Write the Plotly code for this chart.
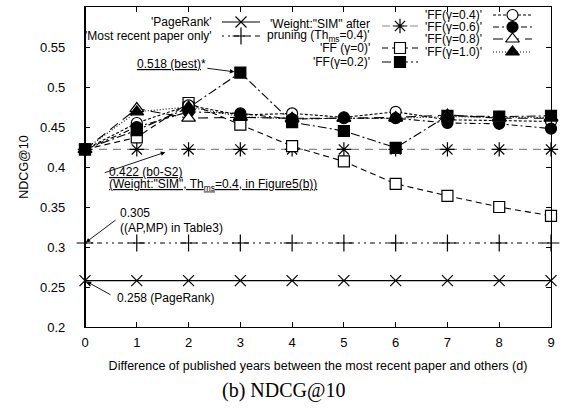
import plotly.graph_objects as go

# ---- data -------------------------------------------------------------
d = [0, 1, 2, 3, 4, 5, 6, 7, 8, 9]
pagerank = [0.258, 0.258, 0.258, 0.258, 0.258, 0.258, 0.258, 0.258, 0.258, 0.258]
most_recent = [0.305, 0.305, 0.305, 0.305, 0.305, 0.305, 0.305, 0.305, 0.305, 0.305]
sim_pruning = [0.422, 0.422, 0.422, 0.422, 0.422, 0.422, 0.422, 0.422, 0.422, 0.422]
ff_g00 = [0.422, 0.437, 0.480, 0.453, 0.426, 0.407, 0.379, 0.364, 0.350, 0.339]
ff_g02 = [0.422, 0.446, 0.474, 0.518, 0.456, 0.445, 0.424, 0.464, 0.463, 0.464]
ff_g04 = [0.422, 0.455, 0.477, 0.465, 0.467, 0.462, 0.469, 0.459, 0.458, 0.457]
ff_g06 = [0.422, 0.450, 0.469, 0.467, 0.460, 0.461, 0.461, 0.455, 0.454, 0.448]
ff_g08 = [0.422, 0.473, 0.461, 0.462, 0.461, 0.461, 0.462, 0.465, 0.461, 0.461]
ff_g10 = [0.422, 0.469, 0.475, 0.463, 0.460, 0.461, 0.461, 0.463, 0.462, 0.462]
y_ticks = [0.2, 0.25, 0.3, 0.35, 0.4, 0.45, 0.5, 0.55, 0.6]
y_tick_text = ["0.2", "0.25", "0.3", "0.35", "0.4", "0.45", "0.5", "0.55", "0.6"]

SANS = "Liberation Sans, Arial, Helvetica, sans-serif"
SERIF = "Liberation Serif, Times New Roman, serif"
BLACK = "#000000"

# name, values, dash, marker symbol, marker fill, line colour, marker size
series = [
    ("'PageRank'", pagerank, "solid", "x-thin-open", BLACK, BLACK, 11),
    ("'Most recent paper only'", most_recent, "2px,4px,2px,4px,5px,4px", "cross-thin-open", BLACK, BLACK, 12),
    ("'Weight:\"SIM\" after pruning'", sim_pruning, "8px,6px", "asterisk-open", BLACK, "#888888", 12),
    ("'FF (γ=0)'", ff_g00, "6px,4px", "square", "white", BLACK, 11),
    ("'FF(γ=0.2)'", ff_g02, "9px,3px,2px,3px", "square", BLACK, BLACK, 11),
    ("'FF(γ=0.4)'", ff_g04, "3px,2px", "circle", "white", BLACK, 11),
    ("'FF(γ=0.6)'", ff_g06, "6px,3px,2px,3px", "circle", BLACK, BLACK, 11),
    ("'FF(γ=0.8)'", ff_g08, "10px,6px", "triangle-up", "white", BLACK, 12),
    ("'FF(γ=1.0)'", ff_g10, "1px,2px", "triangle-up", BLACK, BLACK, 12),
]

fig = go.Figure()

for name, vals, dash, sym, fill, lcol, msize in series:
    fig.add_trace(go.Scatter(
        x=d, y=vals, mode="lines+markers", name=name, showlegend=False,
        cliponaxis=False,
        line=dict(color=lcol, width=1.1, dash=dash),
        marker=dict(symbol=sym, size=msize, color=fill,
                    line=dict(color=BLACK, width=1.2)),
    ))

# ---- key (drawn inside the plot on an overlay axis in page pixels) -----
# each entry: series index, label lines, label right edge, sample x0, x1, row y
key_rows = [
    (0, ["'PageRank'"], 213, 222, 260, 22),
    (1, ["'Most recent paper only'"], 213, 222, 260, 36),
    (2, ["'Weight:\"SIM\" after", "pruning (Th<sub>ms</sub>=0.4)'"], 371, 382, 418, 26),
    (3, ["'FF (γ=0)'"], 371, 382, 418, 48),
    (4, ["'FF(γ=0.2)'"], 371, 382, 418, 62),
    (5, ["'FF(γ=0.4)'"], 483, 493, 532, 15),
    (6, ["'FF(γ=0.6)'"], 483, 493, 532, 27),
    (7, ["'FF(γ=0.8)'"], 483, 493, 532, 39),
    (8, ["'FF(γ=1.0)'"], 483, 493, 532, 52),
]

annotations = []
for idx, lines, tx, x0, x1, ry in key_rows:
    _, _, dash, sym, fill, lcol, msize = series[idx]
    fig.add_trace(go.Scatter(
        x=[x0, x1], y=[ry, ry], xaxis="x2", yaxis="y2", mode="lines",
        showlegend=False, hoverinfo="skip", cliponaxis=False,
        line=dict(color=lcol, width=1.1, dash=dash),
    ))
    fig.add_trace(go.Scatter(
        x=[(x0 + x1) / 2], y=[ry], xaxis="x2", yaxis="y2", mode="markers",
        showlegend=False, hoverinfo="skip", cliponaxis=False,
        marker=dict(symbol=sym, size=msize, color=fill,
                    line=dict(color=BLACK, width=1.2)),
    ))
    if len(lines) == 1:
        annotations.append(dict(xref="x2", yref="y2", x=tx, y=ry, text=lines[0],
                                showarrow=False, xanchor="right", yanchor="middle",
                                borderpad=0,
                                font=dict(family=SANS, size=12, color=BLACK)))
    else:
        for k, t in enumerate(lines):
            annotations.append(dict(xref="x2", yref="y2", x=tx, y=24 + 12 * k, text=t,
                                    showarrow=False, xanchor="right", yanchor="middle",
                                    borderpad=0,
                                    font=dict(family=SANS, size=12, color=BLACK)))

# ---- value call-outs ---------------------------------------------------
UL = '<span style="text-decoration:underline">{}</span>'
note_font = dict(family=SANS, size=12, color=BLACK)
arrow = dict(showarrow=True, arrowhead=2, arrowsize=1, arrowwidth=0.9, arrowcolor=BLACK)

annotations += [
    # best value of FF(γ=0.2)
    dict(xref="x", yref="y", x=3, y=ff_g02[3], text=UL.format("0.518 (best)") + "*",
         ax=-69, ay=-9, standoff=6, font=note_font, **arrow),
    # baseline b0-S2
    dict(xref="x", yref="y", x=1.55, y=0.4185, text="", ax=-62, ay=21, **arrow),
    dict(xref="x", yref="y", x=0.42, y=0.3935, text=UL.format("0.422 (b0-S2)"),
         showarrow=False, xanchor="left", yanchor="middle", font=note_font),
    dict(xref="x", yref="y", x=0.42, y=0.3770,
         text=UL.format("(Weight:\"SIM\", Th<sub>ms</sub>=0.4, in Figure5(b))"),
         showarrow=False, xanchor="left", yanchor="middle", font=note_font),
    # most recent paper only
    dict(xref="x", yref="y", x=0, y=most_recent[0], text="", ax=32, ay=-24,
         standoff=1, **arrow),
    dict(xref="x", yref="y", x=0.64, y=0.3425, text="0.305",
         showarrow=False, xanchor="left", yanchor="middle", font=note_font),
    dict(xref="x", yref="y", x=0.64, y=0.3240, text="((AP,MP) in Table3)",
         showarrow=False, xanchor="left", yanchor="middle", font=note_font),
    # PageRank
    dict(xref="x", yref="y", x=0, y=pagerank[0], text="", ax=27, ay=15,
         standoff=2, **arrow),
    dict(xref="x", yref="y", x=0.58, y=0.2360, text="0.258 (PageRank)",
         showarrow=False, xanchor="left", yanchor="middle", font=note_font),
    # caption
    dict(xref="paper", yref="paper", x=0.425, y=-0.197, text="(b) NDCG@10",
         showarrow=False, xanchor="center", yanchor="middle",
         font=dict(family=SERIF, size=20, color=BLACK)),
]

axis_common = dict(
    showline=True, mirror="ticks", linecolor=BLACK, linewidth=1.2,
    ticks="inside", ticklen=5, tickwidth=1, tickcolor=BLACK,
    showgrid=False, zeroline=False, automargin=False,
    tickfont=dict(family=SANS, size=13, color=BLACK),
)

fig.update_layout(
    width=569, height=408,
    margin=dict(l=85, r=18, t=7, b=81),
    paper_bgcolor="white", plot_bgcolor="white",
    showlegend=False,
    xaxis=dict(range=[0, 9], tickvals=d, ticktext=[str(v) for v in d],
               ticklabelstandoff=3,
               title=dict(text="Difference of published years between the most recent paper and others (d)",
                          font=dict(family=SANS, size=12.5, color=BLACK), standoff=12),
               **axis_common),
    yaxis=dict(range=[0.2, 0.6], tickvals=y_ticks, ticktext=y_tick_text,
               ticklabelstandoff=16,
               title=dict(text="NDCG@10", font=dict(family=SANS, size=12.5, color=BLACK),
                          standoff=8),
               **axis_common),
    xaxis2=dict(range=[85, 551], overlaying="x", visible=False, fixedrange=True),
    yaxis2=dict(range=[327, 7], overlaying="y", visible=False, fixedrange=True),
    annotations=annotations,
    shapes=[dict(type="line", xref="paper", yref="paper", x0=0, x1=0, y0=0, y1=1,
                 line=dict(color=BLACK, width=2))],
)

fig.write_html("out.html")
